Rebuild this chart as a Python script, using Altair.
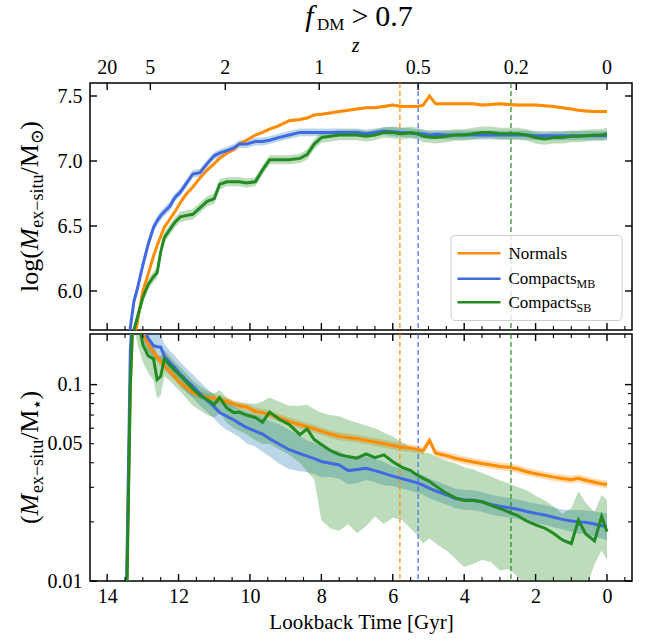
import altair as alt
import pandas as pd

FONT = "Liberation Serif, DejaVu Serif, serif"
W, H1, H2 = 542, 247, 247

# ---------------- data ----------------
T = [13.55, 13.45, 13.35, 13.25, 13.15, 13.0, 12.85, 12.7, 12.6, 12.5,
     12.4, 12.25, 12.1, 11.95, 11.8, 11.6, 11.4, 11.2, 11.0, 10.85,
     10.65, 10.45, 10.3, 10.1, 9.85, 9.65, 9.45, 9.2, 8.9, 8.6,
     8.4, 8.2, 8.0, 7.75, 7.5, 7.25, 7.0, 6.75, 6.5, 6.25,
     6.0, 5.75, 5.5, 5.3, 5.15, 4.97, 4.8, 4.5, 4.25, 4.0,
     3.75, 3.5, 3.25, 3.0, 2.75, 2.5, 2.25, 2.0, 1.75, 1.5,
     1.25, 1.0, 0.8, 0.6, 0.35, 0.15, 0.0]

norm_top = [4.6, 5.0, 5.35, 5.6, 5.77, 6.0, 6.13, 6.27, 6.35, 6.42,
            6.49, 6.55, 6.61, 6.68, 6.74, 6.80, 6.87, 6.93, 6.98, 7.02,
            7.06, 7.09, 7.13, 7.16, 7.20, 7.22, 7.245, 7.27, 7.31, 7.32,
            7.33, 7.355, 7.36, 7.37, 7.38, 7.39, 7.40, 7.41, 7.41, 7.42,
            7.43, 7.42, 7.42, 7.42, 7.43, 7.50, 7.44, 7.44, 7.44, 7.44,
            7.44, 7.43, 7.435, 7.44, 7.435, 7.43, 7.43, 7.43, 7.425, 7.42,
            7.41, 7.40, 7.39, 7.385, 7.38, 7.38, 7.38]
mb_top = [5.0, 5.4, 5.72, 5.92, 6.02, 6.20, 6.36, 6.49, 6.54, 6.58,
          6.61, 6.65, 6.72, 6.76, 6.82, 6.90, 6.91, 6.98, 7.04, 7.06,
          7.08, 7.10, 7.13, 7.13, 7.15, 7.15, 7.16, 7.18, 7.20, 7.22,
          7.22, 7.22, 7.22, 7.22, 7.22, 7.22, 7.22, 7.21, 7.22, 7.23,
          7.225, 7.22, 7.215, 7.21, 7.21, 7.20, 7.205, 7.20, 7.20, 7.20,
          7.20, 7.20, 7.20, 7.20, 7.20, 7.20, 7.20, 7.195, 7.195, 7.195,
          7.195, 7.195, 7.195, 7.195, 7.195, 7.195, 7.195]
sb_top = [4.8, 5.2, 5.5, 5.7, 5.8, 5.95, 6.05, 6.11, 6.14, 6.30,
          6.41, 6.47, 6.53, 6.57, 6.58, 6.59, 6.64, 6.69, 6.71, 6.82,
          6.84, 6.84, 6.84, 6.83, 6.84, 6.93, 7.01, 7.01, 7.01, 7.02,
          7.05, 7.13, 7.18, 7.19, 7.20, 7.20, 7.20, 7.19, 7.20, 7.22,
          7.22, 7.21, 7.22, 7.21, 7.19, 7.185, 7.18, 7.19, 7.20, 7.20,
          7.21, 7.22, 7.22, 7.21, 7.21, 7.21, 7.20, 7.18, 7.17, 7.18,
          7.18, 7.19, 7.19, 7.195, 7.20, 7.20, 7.21]

norm_top_err = [0.03, 0.03, 0.03, 0.025, 0.02, 0.02, 0.018, 0.016, 0.015, 0.015,
                0.014, 0.014, 0.014, 0.014, 0.014, 0.014, 0.014, 0.014, 0.014, 0.014,
                0.013, 0.013, 0.013, 0.013, 0.012, 0.012, 0.012, 0.012, 0.012, 0.012,
                0.012, 0.012, 0.012, 0.012, 0.012, 0.012, 0.012, 0.012, 0.012, 0.012,
                0.012, 0.012, 0.012, 0.012, 0.012, 0.012, 0.012, 0.012, 0.012, 0.012,
                0.012, 0.012, 0.012, 0.012, 0.012, 0.012, 0.012, 0.012, 0.012, 0.012,
                0.012, 0.012, 0.012, 0.012, 0.012, 0.012, 0.012]
mb_top_err = [0.05, 0.05, 0.045, 0.04, 0.04, 0.04, 0.04, 0.035, 0.035, 0.035,
              0.035, 0.035, 0.03, 0.03, 0.03, 0.03, 0.03, 0.03, 0.03, 0.03,
              0.03, 0.03, 0.03, 0.03, 0.03, 0.03, 0.03, 0.03, 0.03, 0.03,
              0.03, 0.03, 0.03, 0.03, 0.03, 0.03, 0.03, 0.03, 0.03, 0.03,
              0.035, 0.035, 0.035, 0.035, 0.035, 0.035, 0.035, 0.035, 0.035, 0.035,
              0.035, 0.035, 0.035, 0.035, 0.035, 0.035, 0.035, 0.035, 0.035, 0.035,
              0.035, 0.035, 0.035, 0.035, 0.035, 0.035, 0.035]
sb_top_err = [0.05, 0.05, 0.05, 0.045, 0.045, 0.04, 0.04, 0.04, 0.04, 0.04,
              0.04, 0.04, 0.04, 0.04, 0.04, 0.04, 0.04, 0.04, 0.04, 0.04,
              0.035, 0.035, 0.035, 0.035, 0.035, 0.035, 0.035, 0.035, 0.035, 0.035,
              0.04, 0.04, 0.04, 0.04, 0.04, 0.04, 0.04, 0.04, 0.04, 0.04,
              0.045, 0.045, 0.045, 0.045, 0.045, 0.045, 0.045, 0.045, 0.045, 0.045,
              0.045, 0.045, 0.045, 0.045, 0.045, 0.045, 0.045, 0.045, 0.045, 0.045,
              0.045, 0.045, 0.045, 0.045, 0.045, 0.045, 0.045]

norm_bot = [0.003, 0.010, 0.10, 0.30, 0.25, 0.185, 0.16, 0.146, 0.138, 0.131,
            0.124, 0.117, 0.109, 0.102, 0.097, 0.091, 0.088, 0.086, 0.0855, 0.084,
            0.082, 0.0795, 0.078, 0.077, 0.073, 0.072, 0.0705, 0.068, 0.065, 0.0625,
            0.061, 0.0595, 0.058, 0.056, 0.0545, 0.0538, 0.053, 0.052, 0.051, 0.050,
            0.049, 0.048, 0.0475, 0.0468, 0.046, 0.052, 0.0448, 0.0435, 0.0422, 0.0412,
            0.0404, 0.0397, 0.039, 0.0383, 0.038, 0.0372, 0.036, 0.0352, 0.0345, 0.0338,
            0.0333, 0.0328, 0.0333, 0.0326, 0.0318, 0.0313, 0.031]
mb_bot = [0.002, 0.011, 0.15, 0.30, 0.25, 0.20, 0.172, 0.158, 0.156, 0.155,
          0.140, 0.130, 0.122, 0.113, 0.106, 0.098, 0.090, 0.083, 0.077, 0.072,
          0.069, 0.066, 0.0635, 0.0605, 0.058, 0.056, 0.053, 0.050, 0.0466, 0.0445,
          0.0432, 0.042, 0.0406, 0.0398, 0.039, 0.0365, 0.037, 0.0375, 0.0365, 0.0353,
          0.0342, 0.0332, 0.0323, 0.0315, 0.0308, 0.0296, 0.0288, 0.0275, 0.0263, 0.0259,
          0.0258, 0.0253, 0.0245, 0.024, 0.0236, 0.0232, 0.0226, 0.0221, 0.0217, 0.0211,
          0.0206, 0.0202, 0.020, 0.0199, 0.0195, 0.0191, 0.0189]
sb_bot = [0.002, 0.008, 0.10, 0.30, 0.22, 0.16, 0.140, 0.135, 0.106, 0.110,
          0.135, 0.126, 0.118, 0.111, 0.104, 0.095, 0.088, 0.084, 0.079, 0.086,
          0.076, 0.072, 0.0725, 0.070, 0.068, 0.0644, 0.0725, 0.067, 0.0626, 0.0556,
          0.0595, 0.0525, 0.0495, 0.0462, 0.044, 0.043, 0.0422, 0.0444, 0.0425, 0.0439,
          0.0405, 0.038, 0.0365, 0.0345, 0.0333, 0.0321, 0.0305, 0.028, 0.0265, 0.0257,
          0.0257, 0.0253, 0.0243, 0.0234, 0.0224, 0.0215, 0.0202, 0.0193, 0.0186, 0.0175,
          0.0162, 0.0155, 0.0204, 0.0174, 0.016, 0.0213, 0.0178]

norm_bot_dex = [0.05, 0.05, 0.05, 0.04, 0.04, 0.03, 0.03, 0.025, 0.025, 0.025,
                0.02, 0.02, 0.02, 0.02, 0.02, 0.02, 0.02, 0.02, 0.02, 0.02,
                0.02, 0.02, 0.02, 0.02, 0.02, 0.02, 0.02, 0.02, 0.02, 0.02,
                0.02, 0.02, 0.02, 0.02, 0.02, 0.02, 0.02, 0.02, 0.02, 0.02,
                0.02, 0.02, 0.02, 0.02, 0.02, 0.02, 0.02, 0.02, 0.02, 0.02,
                0.02, 0.02, 0.02, 0.02, 0.02, 0.02, 0.02, 0.02, 0.02, 0.02,
                0.02, 0.02, 0.02, 0.02, 0.02, 0.02, 0.02]
mb_bot_dex = [0.25, 0.2, 0.1, 0.08, 0.08, 0.07, 0.07, 0.07, 0.07, 0.07,
              0.06, 0.06, 0.06, 0.06, 0.06, 0.06, 0.06, 0.06, 0.06, 0.06,
              0.07, 0.07, 0.07, 0.08, 0.08, 0.09, 0.09, 0.10, 0.10, 0.09,
              0.08, 0.08, 0.08, 0.07, 0.07, 0.07, 0.07, 0.06, 0.06, 0.06,
              0.05, 0.05, 0.05, 0.05, 0.05, 0.05, 0.05, 0.05, 0.05, 0.05,
              0.05, 0.05, 0.05, 0.05, 0.05, 0.05, 0.05, 0.05, 0.05, 0.05,
              0.05, 0.055, 0.06, 0.06, 0.065, 0.065, 0.07]
sb_bot_lo = [0.001, 0.005, 0.06, 0.20, 0.16, 0.13, 0.115, 0.105, 0.085, 0.088,
             0.11, 0.105, 0.098, 0.092, 0.086, 0.078, 0.074, 0.07, 0.068, 0.072,
             0.064, 0.06, 0.058, 0.056, 0.052, 0.05, 0.05, 0.047, 0.044, 0.04,
             0.036, 0.033, 0.0204, 0.0185, 0.018, 0.0195, 0.0175, 0.019, 0.0213, 0.0195,
             0.021, 0.0205, 0.0185, 0.017, 0.0155, 0.0165, 0.0155, 0.0143, 0.013, 0.0118,
             0.0122, 0.0128, 0.0125, 0.0113, 0.0115, 0.0105, 0.0095, 0.009, 0.0085, 0.0085,
             0.0085, 0.0085, 0.0085, 0.009, 0.0122, 0.0143, 0.0128]
sb_bot_hi = [0.003, 0.012, 0.15, 0.40, 0.30, 0.19, 0.165, 0.16, 0.14, 0.14,
             0.15, 0.14, 0.13, 0.123, 0.115, 0.105, 0.098, 0.093, 0.09, 0.094,
             0.086, 0.082, 0.081, 0.08, 0.08, 0.082, 0.086, 0.082, 0.078, 0.078,
             0.079, 0.075, 0.072, 0.07, 0.069, 0.066, 0.064, 0.062, 0.06, 0.057,
             0.0545, 0.051, 0.048, 0.0465, 0.045, 0.0448, 0.043, 0.041, 0.0398, 0.038,
             0.037, 0.0355, 0.034, 0.0325, 0.0315, 0.030, 0.029, 0.0272, 0.0258, 0.024,
             0.022, 0.0235, 0.0286, 0.025, 0.0225, 0.0274, 0.0258]

series = ["Normals", "CompactsMB", "CompactsSB"]
vline_t = [5.80, 5.29, 2.69]          # lookback time marked per sample
z_labels = ["20", "5", "2", "1", "0.5", "0.2", "0"]
z_pos = [14.0, 12.79, 10.69, 8.06, 5.29, 2.54, 0.0]
x_major = [0, 2, 4, 6, 8, 10, 12, 14]
x_minor = [-0.5, 0.5, 1, 1.5, 2.5, 3, 3.5, 4.5, 5, 5.5, 6.5, 7, 7.5, 8.5, 9, 9.5,
           10.5, 11, 11.5, 12.5, 13, 13.5]
ytop_major = [6.0, 6.5, 7.0, 7.5]
ybot_major = [0.01, 0.1]
ybot_minor = [0.02, 0.03, 0.04, 0.05, 0.06, 0.07, 0.08, 0.09]
ybot_labels = [0.01, 0.05, 0.1]

# ---------------- styles ----------------
LINE = {"Normals": "#ff8c00", "CompactsMB": "#4169e1", "CompactsSB": "#228b22"}
BAND = {"Normals": "#ff8c00", "CompactsMB": "#1f77b4", "CompactsSB": "#228b22"}

xs = alt.Scale(domain=[-0.70, 14.48], reverse=True, nice=False, zero=False)
ys_top = alt.Scale(domain=[5.70, 7.60], nice=False, zero=False)
ys_bot = alt.Scale(type="log", domain=[0.01, 0.181], nice=False)

ONE = alt.Data(values=[{"k": 0}])

REG = {' ': 0.25, '(': 0.333, ')': 0.333, '.': 0.25, '/': 0.278, '0': 0.5, '7': 0.5,
       '>': 0.564, 'B': 0.667, 'C': 0.667, 'D': 0.722, 'M': 0.889, 'N': 0.722,
       'S': 0.556, 'a': 0.444, 'c': 0.444, 'e': 0.444, 'g': 0.5, 'i': 0.278,
       'l': 0.278, 'm': 0.778, 'o': 0.5, 'p': 0.5, 'r': 0.333, 's': 0.389,
       't': 0.278, 'u': 0.5, 'x': 0.5, '\u2212': 0.564, '\u2299': 0.8, '\u22c6': 0.55}
ITA = {'M': 0.86, 'f': 0.36, 'z': 0.42}


def runs(parts, x0, y0, angle=0, anchor="middle"):
    """parts: (text, fontSize, italic, baseline shift, gap after)"""
    parts = [p if len(p) == 5 else tuple(p) + (0,) for p in parts]
    widths = [sum((ITA if it else REG).get(ch, 0.5) for ch in txt) * fs + gap
              for txt, fs, it, sh, gap in parts]
    pos = -sum(widths) / 2 if anchor == "middle" else 0
    out = []
    for (txt, fs, it, sh, gap), w in zip(parts, widths):
        if angle == 0:
            x, y = x0 + pos, y0 + sh
        else:
            x, y = x0 + sh, y0 - pos
        out.append(
            alt.Chart(ONE).mark_text(
                font=FONT, fontSize=fs, fontStyle="italic" if it else "normal",
                align="left", baseline="alphabetic", angle=angle, color="black"
            ).encode(x=alt.value(x), y=alt.value(y), text=alt.value(txt))
        )
        pos += w
    return out


def xtick_layer(vals, y1, y2, sw):
    return alt.Chart(pd.DataFrame({"t": vals})).mark_rule(color="black", strokeWidth=sw).encode(
        x=alt.X("t:Q", scale=xs, axis=None), y=alt.value(y1), y2=alt.value(y2))


def ytick_layer(vals, scale, x1, x2, sw):
    return alt.Chart(pd.DataFrame({"v": vals})).mark_rule(color="black", strokeWidth=sw).encode(
        y=alt.Y("v:Q", scale=scale, axis=None), x=alt.value(x1), x2=alt.value(x2))


def frame_ticks_x(vals_major, vals_minor, H, top=True, bottom=True):
    out = []
    if bottom:
        out.append(xtick_layer(vals_major, H, H - 7, 1.4))
        out.append(xtick_layer(vals_minor, H, H - 4, 1.1))
    if top:
        out.append(xtick_layer(vals_major, 0, 7, 1.4))
        out.append(xtick_layer(vals_minor, 0, 4, 1.1))
    return out


def frame_ticks_y(vmaj, vmin, scale):
    out = [ytick_layer(vmaj, scale, 0, 7, 1.4), ytick_layer(vmaj, scale, W, W - 7, 1.4)]
    if vmin:
        out += [ytick_layer(vmin, scale, 0, 4, 1.1), ytick_layer(vmin, scale, W, W - 4, 1.1)]
    return out


# ---------------- tables ----------------
def top_table(vals, err):
    return pd.DataFrame({"t": T, "v": vals,
                         "lo": [a - b for a, b in zip(vals, err)],
                         "hi": [a + b for a, b in zip(vals, err)]})


def bot_table(vals, lo, hi):
    return pd.DataFrame({"t": T, "v": vals, "lo": lo, "hi": hi})


top_tabs = {
    "Normals": top_table(norm_top, norm_top_err),
    "CompactsMB": top_table(mb_top, mb_top_err),
    "CompactsSB": top_table(sb_top, sb_top_err),
}
bot_tabs = {
    "Normals": bot_table(norm_bot, [v / 10 ** d for v, d in zip(norm_bot, norm_bot_dex)],
                         [v * 10 ** d for v, d in zip(norm_bot, norm_bot_dex)]),
    "CompactsMB": bot_table(mb_bot, [v / 10 ** d for v, d in zip(mb_bot, mb_bot_dex)],
                            [v * 10 ** d for v, d in zip(mb_bot, mb_bot_dex)]),
    "CompactsSB": bot_table(sb_bot, sb_bot_lo, sb_bot_hi),
}

vlines = pd.DataFrame({"t": vline_t, "s": series})
vline_layer = alt.Chart(vlines).mark_rule(strokeWidth=1.2, strokeDash=[5, 3]).encode(
    x=alt.X("t:Q", scale=xs, axis=None),
    color=alt.Color("s:N", scale=alt.Scale(domain=series, range=[LINE[s] for s in series]), legend=None))


def panel_layers(tabs, yscale, yaxis, xaxis):
    layers = []
    for s in series:
        layers.append(alt.Chart(tabs[s]).mark_area(color=BAND[s], opacity=0.3, clip=True).encode(
            x=alt.X("t:Q", scale=xs, axis=None),
            y=alt.Y("lo:Q", scale=yscale, axis=None), y2="hi:Q"))
    layers.append(vline_layer)
    for i, s in enumerate(series):
        enc_x = alt.X("t:Q", scale=xs, axis=xaxis if i == 0 else None)
        enc_y = alt.Y("v:Q", scale=yscale, axis=yaxis if i == 0 else None)
        layers.append(alt.Chart(tabs[s]).mark_line(color=LINE[s], strokeWidth=3, clip=True).encode(
            x=enc_x, y=enc_y))
    return layers


axis_common = dict(ticks=False, tickSize=0, domain=False, grid=False,
                   labelFont=FONT, labelFontSize=20, labelColor="black")

top_yaxis = alt.Axis(values=ytop_major, format=".1f", labelPadding=8, title=None, **axis_common)
bot_yaxis = alt.Axis(values=ybot_labels, format="~g", labelPadding=8, title=None, **axis_common)
bot_xaxis = alt.Axis(values=x_major, format="d", labelPadding=5, title="Lookback Time [Gyr]",
                     titleFont=FONT, titleFontSize=21, titleFontWeight="normal", titleColor="black",
                     titlePadding=5, **axis_common)

# ---------------- top panel ----------------
top_layers = panel_layers(top_tabs, ys_top, top_yaxis, None)
top_layers += frame_ticks_x(x_major, x_minor, H1, top=False, bottom=True)
top_layers.append(xtick_layer(z_pos, 0, 7, 1.4))
top_layers += frame_ticks_y(ytop_major, [], ys_top)

zdf = pd.DataFrame({"t": z_pos, "lab": z_labels})
top_layers.append(alt.Chart(zdf).mark_text(font=FONT, fontSize=20, baseline="middle", color="black").encode(
    x=alt.X("t:Q", scale=xs, axis=None), y=alt.value(-15), text="lab:N"))
top_layers += runs([("z", 20, True, 0)], W / 2 - 5, -31.5)

# legend
top_layers.append(alt.Chart(ONE).mark_rect(fill="white", fillOpacity=0.8, stroke="#cccccc",
                                           strokeWidth=1, cornerRadius=4).encode(
    x=alt.value(361), x2=alt.value(532), y=alt.value(152.5), y2=alt.value(237.5)))
leg_y = [170.2, 195.8, 219.2]
for s, yy in zip(series, leg_y):
    top_layers.append(alt.Chart(ONE).mark_rule(color=LINE[s], strokeWidth=2.5).encode(
        x=alt.value(367.5), x2=alt.value(410.5), y=alt.value(yy)))
top_layers += runs([("Normals", 17, False, 0)], 418.5, leg_y[0] + 5.5, anchor="left")
top_layers += runs([("Compacts", 17, False, 0), ("MB", 12, False, 4)], 418.5, leg_y[1] + 5.5, anchor="left")
top_layers += runs([("Compacts", 17, False, 0), ("SB", 12, False, 4)], 418.5, leg_y[2] + 5.5, anchor="left")

# title
top_layers += runs([("f", 30, True, 0, 1), ("DM", 17, False, 4, 7), (">", 30, False, 0, 7),
                    ("0.7", 30, False, 0)], W / 2 - 2, -57)

# y title
top_layers += runs([("log(", 26, False, 0), ("M", 26, True, 0), ("ex\u2212situ", 18, False, 5),
                    ("/M", 26, False, 0), ("\u2299", 18, False, 5), (")", 26, False, 0)],
                   -52, H1 / 2, angle=270)

top = alt.layer(*top_layers).resolve_axis(x="independent", y="independent").properties(width=W, height=H1)

# ---------------- bottom panel ----------------
bot_layers = panel_layers(bot_tabs, ys_bot, bot_yaxis, bot_xaxis)
bot_layers += frame_ticks_x(x_major, x_minor, H2, top=True, bottom=True)
bot_layers += frame_ticks_y(ybot_major, ybot_minor, ys_bot)
bot_layers += runs([("(", 26, False, 0), ("M", 26, True, 0), ("ex\u2212situ", 18, False, 5),
                    ("/M", 26, False, 0), ("\u22c6", 18, False, 5), (")", 26, False, 0)],
                   -52, H2 / 2, angle=270)

bottom = alt.layer(*bot_layers).resolve_axis(x="independent", y="independent").properties(width=W, height=H2)

chart = alt.vconcat(top, bottom, spacing=0).properties(
    padding={"left": 16, "top": 1, "right": 5, "bottom": 5},
    background="white",
).configure_view(stroke="black", strokeWidth=1.5)

chart.save("out.html", embed_options={"renderer": "svg", "actions": False})
